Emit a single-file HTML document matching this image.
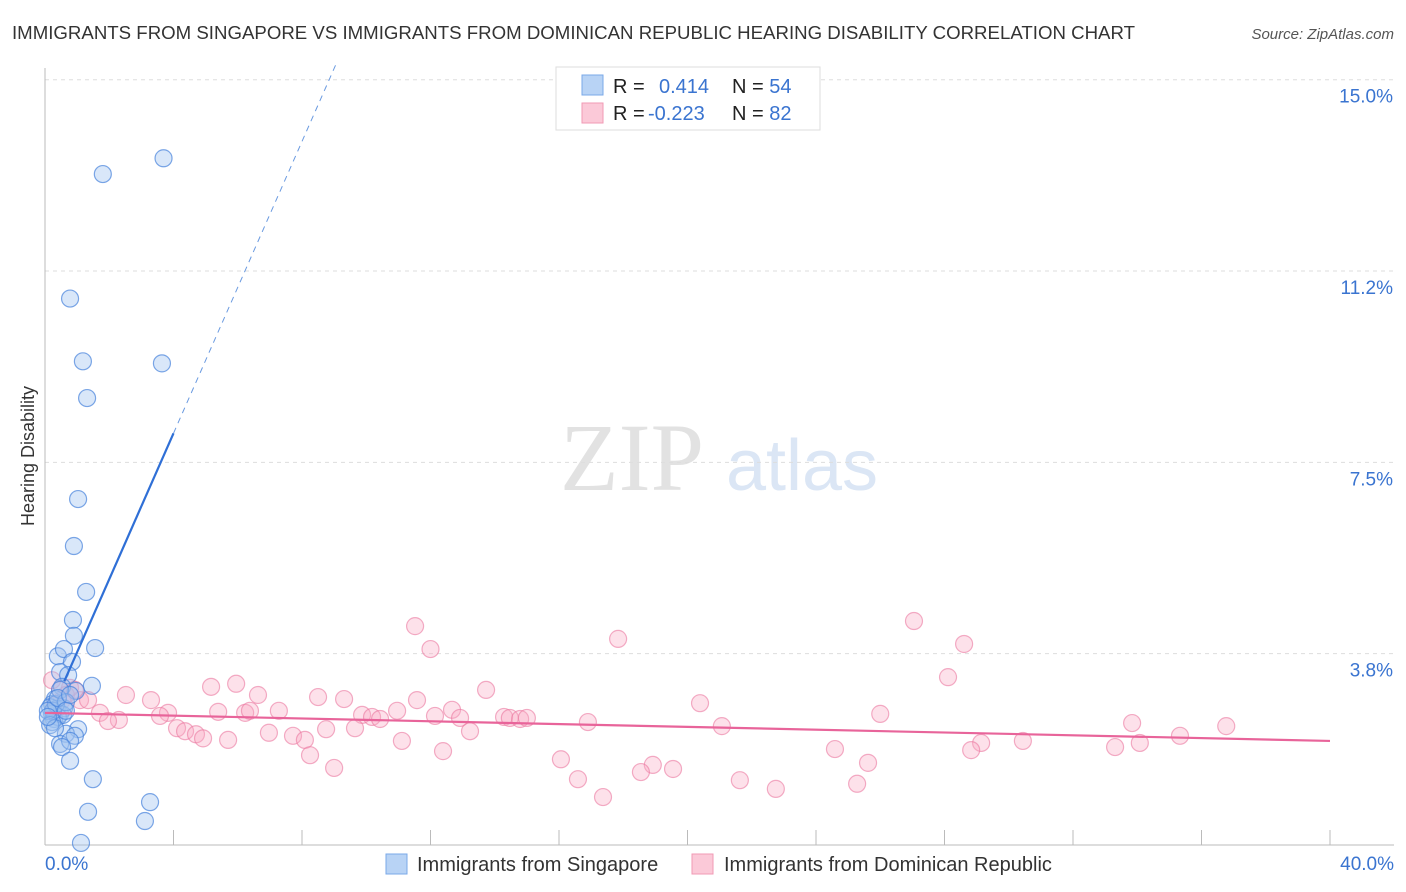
<!DOCTYPE html>
<html><head><meta charset="utf-8"><style>
body{margin:0;background:#fff;font-family:"Liberation Sans",sans-serif;}
svg{display:block}
</style></head><body>
<svg width="1406" height="892" id="c">
<text x="12" y="39" font-size="18" fill="#333" textLength="1123" lengthAdjust="spacingAndGlyphs">IMMIGRANTS FROM SINGAPORE VS IMMIGRANTS FROM DOMINICAN REPUBLIC HEARING DISABILITY CORRELATION CHART</text>
<text x="1394" y="39" font-size="15" fill="#555" font-style="italic" text-anchor="end">Source: ZipAtlas.com</text>
<text x="0" y="0" transform="translate(34,456) rotate(-90)" font-size="18" fill="#333" text-anchor="middle">Hearing Disability</text>
<g><text x="632" y="490" font-size="96" fill="#e2e2e2" font-family="Liberation Serif,serif" text-anchor="middle">ZIP</text><text x="802" y="490" font-size="72" fill="#dbe6f5" text-anchor="middle">atlas</text></g>
<g id="grid"></g><g id="pts"></g><g id="lines"></g>
<g>
<rect x="556" y="67" width="264" height="63" fill="#fff" stroke="#ddd"/>
<rect x="582" y="75" width="21" height="20" fill="#b8d3f5" stroke="#7aa8e8"/>
<rect x="582" y="103" width="21" height="20" fill="#fbc9d8" stroke="#f09ab4"/>
<text x="613" y="93" font-size="20" fill="#222">R = <tspan fill="#3a74d0" x="659">0.414</tspan><tspan fill="#222" x="732">N = </tspan><tspan fill="#3a74d0">54</tspan></text>
<text x="613" y="120" font-size="20" fill="#222">R = <tspan fill="#3a74d0" x="648">-0.223</tspan><tspan fill="#222" x="732">N = </tspan><tspan fill="#3a74d0">82</tspan></text>
</g>
<g>
<rect x="386" y="854" width="21" height="20" fill="#b8d3f5" stroke="#7aa8e8"/>
<text x="417" y="871" font-size="20" fill="#333">Immigrants from Singapore</text>
<rect x="692" y="854" width="21" height="20" fill="#fbc9d8" stroke="#f09ab4"/>
<text x="724" y="871" font-size="20" fill="#333">Immigrants from Dominican Republic</text>
</g>
<text x="45" y="870" font-size="19" fill="#3a74d0">0.0%</text>
<text x="1394" y="870" font-size="19" fill="#3a74d0" text-anchor="end">40.0%</text>
</svg>
<script>
const yTicks=[15.0,11.25,7.5,3.75];
const yTickLabels=["15.0%","11.2%","7.5%","3.8%"];
const blueX=[3.69,1.8,0.78,1.18,3.64,1.31,1.03,0.9,1.28,0.87,0.9,1.56,0.4,0.59,0.84,0.47,0.72,1.46,0.53,0.96,0.31,0.22,0.37,0.47,0.59,0.22,0.28,0.4,0.56,0.22,1.03,0.65,0.93,0.47,0.78,0.53,0.78,1.49,3.27,1.34,3.11,1.12,0.16,0.25,0.34,0.09,0.47,0.65,0.4,0.78,0.16,0.65,0.31,0.09];
const blueY=[13.46,13.15,10.71,9.48,9.44,8.76,6.78,5.86,4.96,4.41,4.1,3.86,3.7,3.84,3.59,3.39,3.33,3.12,3.1,3.02,2.86,2.76,2.67,2.57,2.68,2.57,2.47,2.51,2.55,2.41,2.27,2.18,2.14,1.98,2.04,1.92,1.65,1.29,0.84,0.65,0.47,0.04,2.7,2.63,2.76,2.63,3.04,2.8,2.88,2.94,2.35,2.63,2.29,2.51];
const pinkX=[11.52,17.84,27.05,28.61,12.0,28.11,5.17,5.95,13.73,2.52,3.3,6.63,8.5,9.31,11.58,20.39,7.28,10.96,12.67,14.29,1.71,3.83,5.39,6.23,6.38,9.87,10.18,10.43,12.14,12.92,14.47,14.79,15.0,16.9,26.0,33.84,36.77,2.3,1.96,3.58,4.11,4.36,4.7,4.92,5.7,6.97,7.72,8.09,8.75,9.65,11.11,13.23,21.07,35.33,34.08,30.44,29.14,28.83,24.59,33.31,8.25,9.0,12.39,16.06,18.92,19.55,18.55,16.59,21.63,25.62,17.37,22.75,25.28,1.09,0.47,0.78,0.22,0.65,1.34,0.31,0.93,0.53];
const pinkY=[4.29,4.04,4.39,3.94,3.84,3.29,3.1,3.16,3.04,2.94,2.84,2.94,2.9,2.86,2.84,2.78,2.63,2.63,2.65,2.51,2.59,2.59,2.61,2.59,2.63,2.55,2.51,2.47,2.53,2.49,2.49,2.47,2.49,2.41,2.57,2.39,2.33,2.45,2.43,2.53,2.29,2.23,2.17,2.09,2.06,2.2,2.14,2.06,2.27,2.29,2.04,2.23,2.33,2.14,2.0,2.04,2.0,1.86,1.88,1.92,1.76,1.51,1.84,1.68,1.57,1.49,1.43,1.29,1.27,1.61,0.94,1.1,1.2,2.84,3.04,3.08,3.23,2.94,2.84,2.74,3.04,2.84];
const blueFit=[2.35,1.43];
const pinkFit=[2.59,-0.01375];
const X=v=>45+v*32.125, Y=v=>845-v*51.02;
const NS="http://www.w3.org/2000/svg";
function mk(tag,attrs,parent){const e=document.createElementNS(NS,tag);for(const k in attrs)e.setAttribute(k,attrs[k]);parent.appendChild(e);return e;}
const g=document.getElementById('grid');
yTicks.forEach((t,i)=>{
 const l=mk('line',{x1:45,x2:1394,y1:Y(t),y2:Y(t),stroke:'#ddd','stroke-dasharray':'4,4'},g);
 
 
 const tx=mk('text',{x:1393,y:Y(t)+23,'font-size':19,fill:'#3a74d0','text-anchor':'end'},g);
 tx.textContent=yTickLabels[i];
 
 
});
mk('line',{x1:45,x2:45,y1:68,y2:845,stroke:'#bbb'},g);
mk('line',{x1:45,x2:1394,y1:845,y2:845,stroke:'#bbb'},g);
for(let i=1;i<=10;i++){const t=mk('line',{x1:X(i*4),x2:X(i*4),y1:830,y2:845,stroke:'#bbb'},g);
 
 }
const p=document.getElementById('pts');
pinkX.forEach((x,i)=>{const c=mk('circle',{cx:X(x),cy:Y(pinkY[i]),r:8.5,fill:'rgba(248,170,195,0.35)',stroke:'rgba(235,120,160,0.6)','stroke-width':1.2},p);
 
 });
blueX.forEach((x,i)=>{const c=mk('circle',{cx:X(x),cy:Y(blueY[i]),r:8.5,fill:'rgba(160,195,240,0.4)',stroke:'rgba(70,130,220,0.7)','stroke-width':1.2},p);
 
 });
const L=document.getElementById('lines');
const b1=mk('line',{x1:X(0.6),y1:Y(blueFit[0]+0.6*blueFit[1]),x2:X(4),y2:Y(blueFit[0]+4*blueFit[1]),stroke:'#2f6fd6','stroke-width':2.2},L);


const xe=(15.3-blueFit[0])/blueFit[1];
const b2=mk('line',{x1:X(4),y1:Y(blueFit[0]+4*blueFit[1]),x2:X(xe),y2:Y(15.3),stroke:'#6a9ae0','stroke-width':1,'stroke-dasharray':'6,5'},L);


const pl=mk('line',{x1:X(0),y1:Y(pinkFit[0]),x2:X(40),y2:Y(pinkFit[0]+40*pinkFit[1]),stroke:'#e8649a','stroke-width':2.2},L);


</script>
</body></html>
